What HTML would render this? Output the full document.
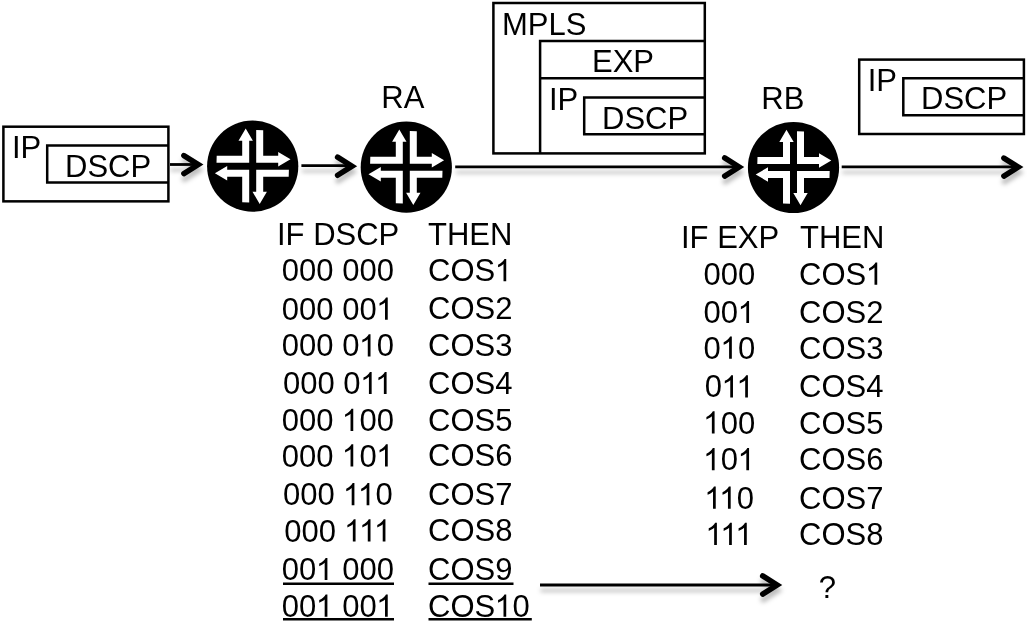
<!DOCTYPE html>
<html><head><meta charset="utf-8">
<style>
html,body{margin:0;padding:0;background:#fff;}
body{width:1027px;height:623px;overflow:hidden;}
svg{display:block;will-change:transform;}
text{font-family:"Liberation Sans",sans-serif;font-size:31px;fill:#000;}
</style></head><body>
<svg width="1027" height="623" viewBox="0 0 1027 623">
<defs>
<filter id="sh" x="-20%" y="-100%" width="140%" height="400%">
<feDropShadow dx="0.5" dy="5.5" stdDeviation="2" flood-color="#000" flood-opacity="0.26"/>
</filter>
<path id="one" d="M730 0L550 0L550 1140Q485 1078 380 1016Q275 954 190 923L190 1097Q342 1168 455 1269Q568 1370 615 1466L730 1466Z" fill="#000"/>
<polygon id="L" points="-36,-10.5 -10.5,-10.5 -10.5,-25.5 -14.2,-25.5 -7,-37.8 0.2,-25.5 -3.5,-25.5 -3.5,-3.5 -36.2,-3.5"/>
<g id="rt">
<circle cx="0" cy="0" r="45.6" fill="#000"/>
<g fill="#fff">
<use href="#L"/>
<use href="#L" transform="rotate(90)"/>
<use href="#L" transform="rotate(180)"/>
<use href="#L" transform="rotate(270)"/>
</g>
</g>
</defs>
<rect width="1027" height="623" fill="#fff"/>

<g fill="none" stroke="#000" stroke-width="2.5">
<rect x="3.4" y="126.7" width="165" height="74.65"/>
<polyline points="168,145.5 47.2,145.5 47.2,182.5 168,182.5"/>
<rect x="493.4" y="3" width="211.4" height="150.4"/>
<polyline points="704.5,41.1 540.1,41.1 540.1,153"/>
<line x1="540.1" y1="78.2" x2="704.5" y2="78.2"/>
<polyline points="704.5,97.6 584.2,97.6 584.2,134.2 704.5,134.2"/>
<rect x="859.2" y="59.6" width="164.7" height="74.4"/>
<polyline points="1023.5,78.2 903.3,78.2 903.3,115.2 1023.5,115.2"/>
</g>

<g filter="url(#sh)" stroke="#000" fill="none">
<line x1="170" y1="164.5" x2="195.5" y2="164.5" stroke-width="2.8"/>
<polyline points="183.90,155.55 198.30,164.60 183.90,173.65" stroke-width="5.5" stroke-linecap="round" stroke-linejoin="miter" stroke-miterlimit="10"/>
<line x1="301.4" y1="165.7" x2="349.2" y2="165.7" stroke-width="2.8"/>
<polyline points="337.60,157.15 352.00,166.20 337.60,175.25" stroke-width="5.5" stroke-linecap="round" stroke-linejoin="miter" stroke-miterlimit="10"/>
<line x1="455.2" y1="166.9" x2="736.3" y2="166.9" stroke-width="2.8"/>
<polyline points="724.70,157.95 739.10,167.00 724.70,176.05" stroke-width="5.5" stroke-linecap="round" stroke-linejoin="miter" stroke-miterlimit="10"/>
<line x1="841.7" y1="166.9" x2="1015.5" y2="166.9" stroke-width="2.8"/>
<polyline points="1003.90,158.05 1018.30,167.10 1003.90,176.15" stroke-width="5.5" stroke-linecap="round" stroke-linejoin="miter" stroke-miterlimit="10"/>
<line x1="540" y1="585.0" x2="774.3" y2="585.0" stroke-width="2.8"/>
<polyline points="762.70,575.95 777.10,585.00 762.70,594.05" stroke-width="5.5" stroke-linecap="round" stroke-linejoin="miter" stroke-miterlimit="10"/>
</g>

<use href="#rt" x="252.7" y="166.2"/>
<use href="#rt" x="406.3" y="167.2"/>
<use href="#rt" x="793.5" y="167.5"/>

<text x="12.00" y="157.9">IP</text>
<text x="65.00" y="177.3">DSCP</text>
<text x="381.30" y="108.3">RA</text>
<text x="502.00" y="34.7">MPLS</text>
<text x="592.00" y="71.9">EXP</text>
<text x="549.00" y="110.2">IP</text>
<text x="602.00" y="128.7">DSCP</text>
<text x="761.30" y="108.5">RB</text>
<text x="867.70" y="91">IP</text>
<text x="921.00" y="108.5">DSCP</text>
<text x="277.00" y="244.5">IF DSCP</text>
<text x="428.00" y="244.5">THEN</text>
<text x="281.87" y="281.3">000 000</text>
<text x="428.00" y="281.3" xml:space="preserve">COS</text>
<use href="#one" transform="translate(495.18,281.3) scale(0.015137,-0.015137)"/>
<text x="281.87" y="319.7" xml:space="preserve">000 00</text>
<use href="#one" transform="translate(376.69,319.7) scale(0.015137,-0.015137)"/>
<text x="428.00" y="319.0">COS2</text>
<text x="281.87" y="356.4" xml:space="preserve">000 0</text>
<use href="#one" transform="translate(359.45,356.4) scale(0.015137,-0.015137)"/>
<text x="376.69" y="356.4" xml:space="preserve">0</text>
<text x="428.00" y="356.1">COS3</text>
<text x="283.02" y="394.1" xml:space="preserve">000 0</text>
<use href="#one" transform="translate(360.60,394.1) scale(0.015137,-0.015137)"/>
<use href="#one" transform="translate(375.54,394.1) scale(0.015137,-0.015137)"/>
<text x="428.00" y="394.1">COS4</text>
<text x="281.87" y="431.0" xml:space="preserve">000 </text>
<use href="#one" transform="translate(342.21,431.0) scale(0.015137,-0.015137)"/>
<text x="359.45" y="431.0" xml:space="preserve">00</text>
<text x="428.00" y="430.6">COS5</text>
<text x="281.87" y="466.5" xml:space="preserve">000 </text>
<use href="#one" transform="translate(342.21,466.5) scale(0.015137,-0.015137)"/>
<text x="359.45" y="466.5" xml:space="preserve">0</text>
<use href="#one" transform="translate(376.69,466.5) scale(0.015137,-0.015137)"/>
<text x="428.00" y="466.0">COS6</text>
<text x="283.02" y="505.3" xml:space="preserve">000 </text>
<use href="#one" transform="translate(343.36,505.3) scale(0.015137,-0.015137)"/>
<use href="#one" transform="translate(358.30,505.3) scale(0.015137,-0.015137)"/>
<text x="375.54" y="505.3" xml:space="preserve">0</text>
<text x="428.00" y="505.0">COS7</text>
<text x="284.17" y="541.5" xml:space="preserve">000 </text>
<use href="#one" transform="translate(344.51,541.5) scale(0.015137,-0.015137)"/>
<use href="#one" transform="translate(359.45,541.5) scale(0.015137,-0.015137)"/>
<use href="#one" transform="translate(374.39,541.5) scale(0.015137,-0.015137)"/>
<text x="428.00" y="541.0">COS8</text>
<text x="281.87" y="580.1" xml:space="preserve">00</text>
<use href="#one" transform="translate(316.35,580.1) scale(0.015137,-0.015137)"/>
<text x="333.59" y="580.1" xml:space="preserve"> 000</text>
<text x="428.00" y="580.1">COS9</text>
<text x="281.87" y="616.7" xml:space="preserve">00</text>
<use href="#one" transform="translate(316.35,616.7) scale(0.015137,-0.015137)"/>
<text x="333.59" y="616.7" xml:space="preserve"> 00</text>
<use href="#one" transform="translate(376.69,616.7) scale(0.015137,-0.015137)"/>
<text x="428.00" y="616.7" xml:space="preserve">COS</text>
<use href="#one" transform="translate(495.18,616.7) scale(0.015137,-0.015137)"/>
<text x="512.42" y="616.7" xml:space="preserve">0</text>
<text x="681.00" y="248.1">IF EXP</text>
<text x="800.00" y="248.1">THEN</text>
<text x="703.54" y="284.8">000</text>
<text x="799.00" y="284.8" xml:space="preserve">COS</text>
<use href="#one" transform="translate(866.18,284.8) scale(0.015137,-0.015137)"/>
<text x="703.54" y="323.1" xml:space="preserve">00</text>
<use href="#one" transform="translate(738.02,323.1) scale(0.015137,-0.015137)"/>
<text x="799.00" y="323.1">COS2</text>
<text x="703.54" y="358.8" xml:space="preserve">0</text>
<use href="#one" transform="translate(720.78,358.8) scale(0.015137,-0.015137)"/>
<text x="738.02" y="358.8" xml:space="preserve">0</text>
<text x="799.00" y="358.8">COS3</text>
<text x="704.69" y="397.4" xml:space="preserve">0</text>
<use href="#one" transform="translate(721.93,397.4) scale(0.015137,-0.015137)"/>
<use href="#one" transform="translate(736.87,397.4) scale(0.015137,-0.015137)"/>
<text x="799.00" y="397.4">COS4</text>
<use href="#one" transform="translate(703.54,433.5) scale(0.015137,-0.015137)"/>
<text x="720.78" y="433.5" xml:space="preserve">00</text>
<text x="799.00" y="433.5">COS5</text>
<use href="#one" transform="translate(703.54,470.3) scale(0.015137,-0.015137)"/>
<text x="720.78" y="470.3" xml:space="preserve">0</text>
<use href="#one" transform="translate(738.02,470.3) scale(0.015137,-0.015137)"/>
<text x="799.00" y="470.3">COS6</text>
<use href="#one" transform="translate(704.69,508.8) scale(0.015137,-0.015137)"/>
<use href="#one" transform="translate(719.63,508.8) scale(0.015137,-0.015137)"/>
<text x="736.87" y="508.8" xml:space="preserve">0</text>
<text x="799.00" y="508.8">COS7</text>
<use href="#one" transform="translate(705.84,544.9) scale(0.015137,-0.015137)"/>
<use href="#one" transform="translate(720.78,544.9) scale(0.015137,-0.015137)"/>
<use href="#one" transform="translate(735.72,544.9) scale(0.015137,-0.015137)"/>
<text x="799.00" y="544.9">COS8</text>
<text x="818.80" y="597.8">?</text>

<g stroke="#000" stroke-width="2.4">
<line x1="283" y1="583.7" x2="394" y2="583.7"/>
<line x1="428.5" y1="583.7" x2="513.5" y2="583.7"/>
<line x1="283" y1="619.3" x2="394" y2="619.3"/>
<line x1="428.5" y1="619.3" x2="531.8" y2="619.3"/>
</g>
</svg>
</body></html>
